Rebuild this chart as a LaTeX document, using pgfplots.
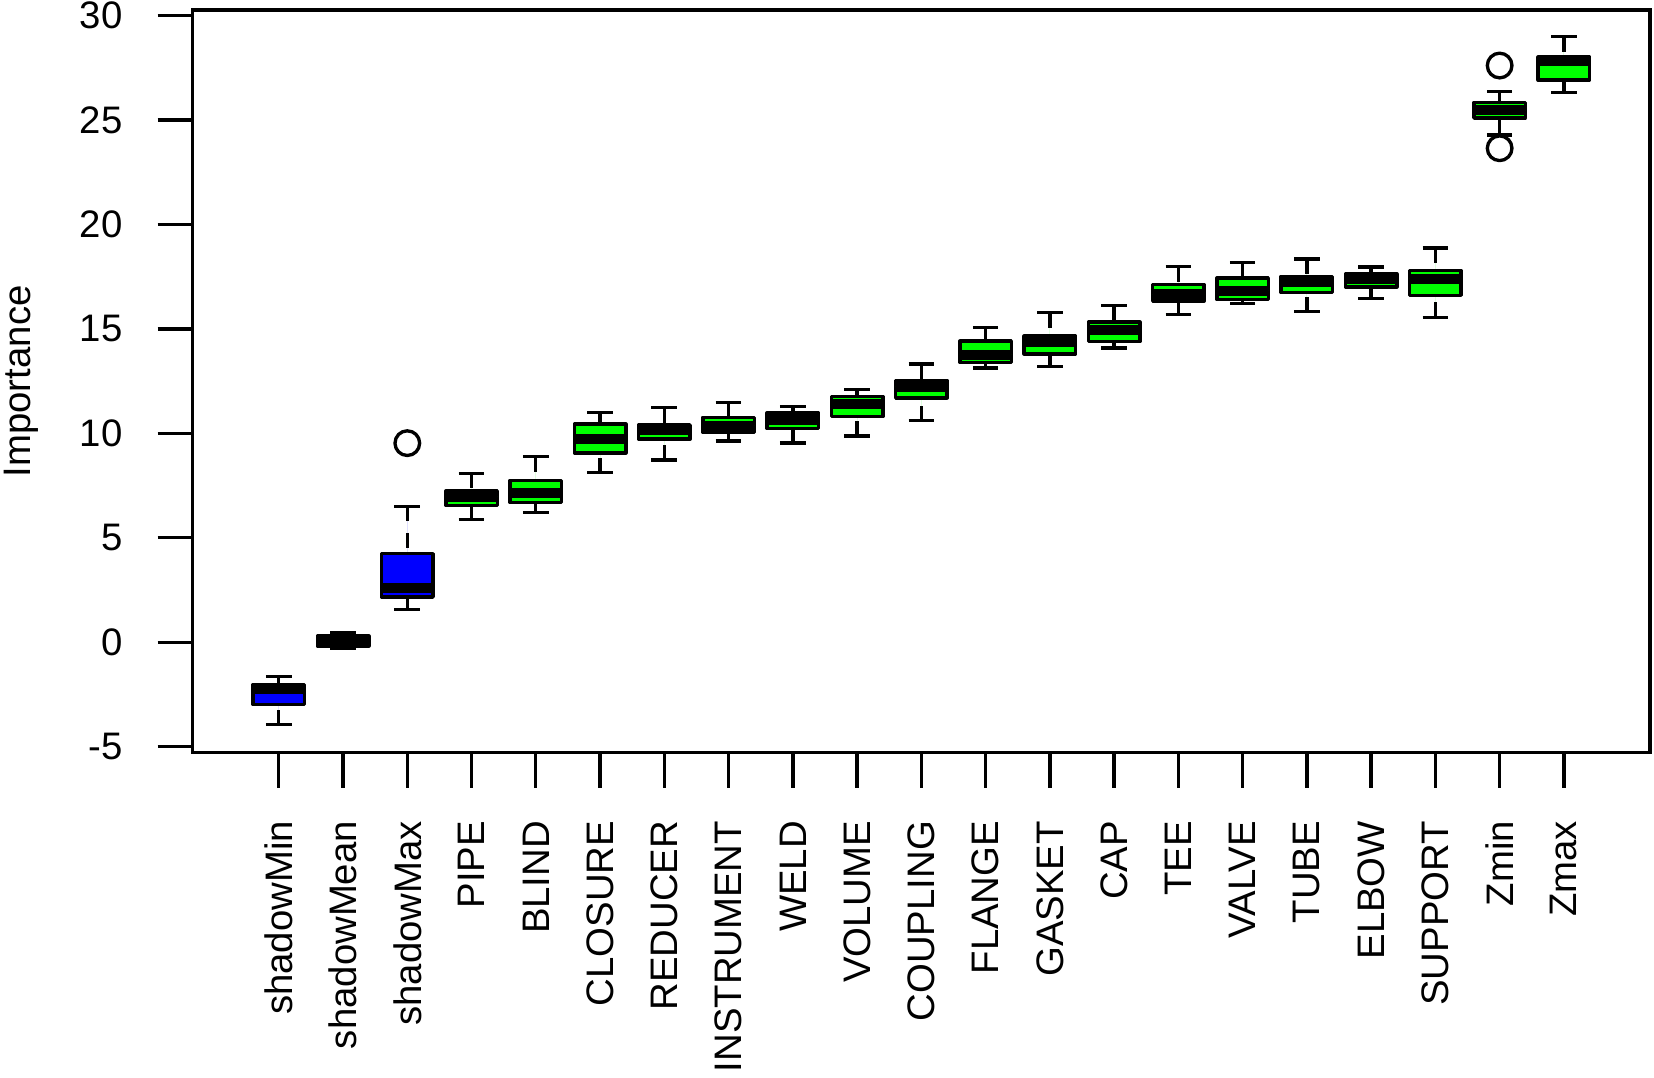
\documentclass[border=0pt]{standalone}
\usepackage{pgfplots}
\pgfplotsset{compat=1.18}
\usepgfplotslibrary{statistics}
\usepackage{fontspec}
\setmainfont{Liberation Sans}

\definecolor{rgreen}{RGB}{0,255,0}
\definecolor{rblue}{RGB}{0,0,255}

\pgfplotsset{
  rbox/.style={
    boxplot/draw direction=y,
    draw=black, line width=1.05pt, line join=round,
    mark=o, mark size=3.7pt,
    mark options={solid, draw=black, fill=none, line width=1pt},
    boxplot/box extend=0.8,
    boxplot/whisker extend=0.4,
    boxplot/every median/.style={line width=3pt},
    boxplot/draw/lower whisker/.code={
      \draw[line width=1pt, dash pattern=on 4.5pt off 3.5pt]
        (boxplot cs:\pgfplotsboxplotvalue{lower whisker})
        -- (boxplot cs:\pgfplotsboxplotvalue{lower quartile});
      \draw[line width=1pt, solid]
        (boxplot whisker cs:\pgfplotsboxplotvalue{lower whisker},0)
        -- (boxplot whisker cs:\pgfplotsboxplotvalue{lower whisker},1);
    },
    boxplot/draw/upper whisker/.code={
      \draw[line width=1pt, dash pattern=on 4.5pt off 3.5pt]
        (boxplot cs:\pgfplotsboxplotvalue{upper whisker})
        -- (boxplot cs:\pgfplotsboxplotvalue{upper quartile});
      \draw[line width=1pt, solid]
        (boxplot whisker cs:\pgfplotsboxplotvalue{upper whisker},0)
        -- (boxplot whisker cs:\pgfplotsboxplotvalue{upper whisker},1);
    },
  },
}

\begin{document}
\begin{tikzpicture}
\useasboundingbox (0,0) rectangle (496.2pt,323.4pt);
\begin{axis}[
  at={(57.81pt,97.59pt)}, anchor=south west,
  scale only axis,
  width=437.19pt, height=222.81pt,
  xmin=-0.34, xmax=22.34,
  ymin=-5.29, ymax=30.27,
  axis line style={line width=1pt},
  tick align=outside,
  major tick length=10.5pt,
  tick style={line width=1pt, black},
  xtick pos=bottom, ytick pos=left,
  xtick={1,...,21},
  xticklabels={shadowMin,shadowMean,shadowMax,PIPE,BLIND,CLOSURE,REDUCER,
    INSTRUMENT,WELD,VOLUME,COUPLING,FLANGE,GASKET,CAP,TEE,VALVE,TUBE,
    ELBOW,SUPPORT,Zmin,Zmax},
  ytick={-5,0,5,10,15,20,25,30},
  yticklabels={-5,0,5,10,15,20,25,30},
  ticklabel style={font=\fontsize{11.5}{13}\selectfont, inner sep=0pt},
  xticklabel style={rotate=90, anchor=east},
  xticklabel shift=9.8pt,
  yticklabel style={anchor=east, xshift=-10.4pt},
  ylabel={Importance},
  every axis y label/.style={at={(axis description cs:-0.1300,0.5)},
    rotate=90, anchor=north, inner sep=0pt,
    font=\fontsize{11.5}{13}\selectfont},
]
% shadow attributes
\addplot[rbox, fill=rblue, boxplot prepared={draw position=1,
  lower whisker=-3.95, lower quartile=-2.99, median=-2.26,
  upper quartile=-2.03, upper whisker=-1.63}] coordinates {};
\addplot[rbox, fill=rblue, boxplot prepared={draw position=2,
  lower whisker=-0.31, lower quartile=-0.18, median=0.06,
  upper quartile=0.29, upper whisker=0.48}] coordinates {};
\addplot[rbox, fill=rblue, boxplot prepared={draw position=3,
  lower whisker=1.58, lower quartile=2.16, median=2.59,
  upper quartile=4.24, upper whisker=6.51}]
  table[row sep=\\, y index=0] {data\\ 9.53\\};
% confirmed attributes
\addplot[rbox, fill=rgreen, boxplot prepared={draw position=4,
  lower whisker=5.89, lower quartile=6.54, median=6.96,
  upper quartile=7.24, upper whisker=8.09}] coordinates {};
\addplot[rbox, fill=rgreen, boxplot prepared={draw position=5,
  lower whisker=6.22, lower quartile=6.69, median=7.14,
  upper quartile=7.75, upper whisker=8.89}] coordinates {};
\addplot[rbox, fill=rgreen, boxplot prepared={draw position=6,
  lower whisker=8.12, lower quartile=9.06, median=9.73,
  upper quartile=10.44, upper whisker=10.99}] coordinates {};
\addplot[rbox, fill=rgreen, boxplot prepared={draw position=7,
  lower whisker=8.73, lower quartile=9.72, median=10.18,
  upper quartile=10.40, upper whisker=11.23}] coordinates {};
\addplot[rbox, fill=rgreen, boxplot prepared={draw position=8,
  lower whisker=9.64, lower quartile=10.04, median=10.36,
  upper quartile=10.77, upper whisker=11.49}] coordinates {};
\addplot[rbox, fill=rgreen, boxplot prepared={draw position=9,
  lower whisker=9.54, lower quartile=10.23, median=10.64,
  upper quartile=10.98, upper whisker=11.27}] coordinates {};
\addplot[rbox, fill=rgreen, boxplot prepared={draw position=10,
  lower whisker=9.88, lower quartile=10.80, median=11.40,
  upper quartile=11.76, upper whisker=12.11}] coordinates {};
\addplot[rbox, fill=rgreen, boxplot prepared={draw position=11,
  lower whisker=10.60, lower quartile=11.70, median=12.22,
  upper quartile=12.54, upper whisker=13.32}] coordinates {};
\addplot[rbox, fill=rgreen, boxplot prepared={draw position=12,
  lower whisker=13.13, lower quartile=13.39, median=13.76,
  upper quartile=14.41, upper whisker=15.08}] coordinates {};
\addplot[rbox, fill=rgreen, boxplot prepared={draw position=13,
  lower whisker=13.20, lower quartile=13.80, median=14.35,
  upper quartile=14.65, upper whisker=15.78}] coordinates {};
\addplot[rbox, fill=rgreen, boxplot prepared={draw position=14,
  lower whisker=14.09, lower quartile=14.39, median=14.95,
  upper quartile=15.32, upper whisker=16.12}] coordinates {};
\addplot[rbox, fill=rgreen, boxplot prepared={draw position=15,
  lower whisker=15.69, lower quartile=16.33, median=16.66,
  upper quartile=17.12, upper whisker=17.98}] coordinates {};
\addplot[rbox, fill=rgreen, boxplot prepared={draw position=16,
  lower whisker=16.21, lower quartile=16.40, median=16.83,
  upper quartile=17.43, upper whisker=18.18}] coordinates {};
\addplot[rbox, fill=rgreen, boxplot prepared={draw position=17,
  lower whisker=15.83, lower quartile=16.74, median=17.27,
  upper quartile=17.52, upper whisker=18.34}] coordinates {};
\addplot[rbox, fill=rgreen, boxplot prepared={draw position=18,
  lower whisker=16.45, lower quartile=17.01, median=17.38,
  upper quartile=17.63, upper whisker=17.97}] coordinates {};
\addplot[rbox, fill=rgreen, boxplot prepared={draw position=19,
  lower whisker=15.56, lower quartile=16.61, median=17.39,
  upper quartile=17.79, upper whisker=18.88}] coordinates {};
% Z scores
\addplot[rbox, fill=rgreen, boxplot prepared={draw position=20,
  lower whisker=24.29, lower quartile=25.10, median=25.47,
  upper quartile=25.85, upper whisker=26.36}]
  table[row sep=\\, y index=0] {data\\ 27.61\\ 23.65\\};
\addplot[rbox, fill=rgreen, boxplot prepared={draw position=21,
  lower whisker=26.31, lower quartile=26.91, median=27.82,
  upper quartile=28.01, upper whisker=29.00}] coordinates {};
\end{axis}
\end{tikzpicture}
\end{document}
